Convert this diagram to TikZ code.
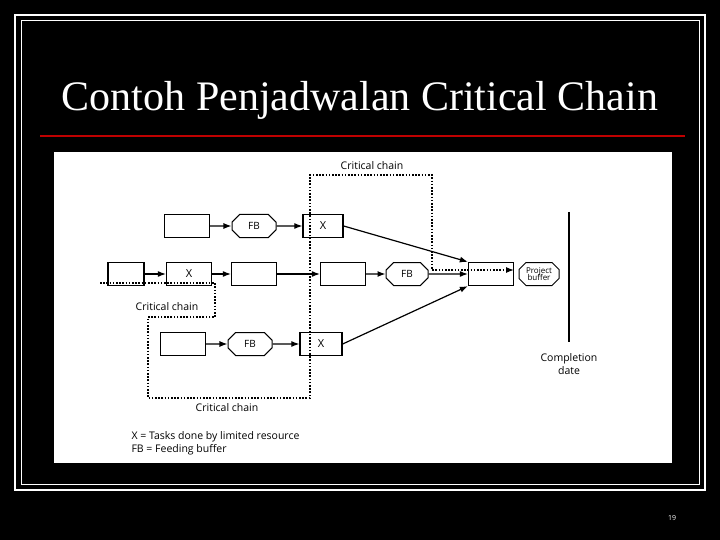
\documentclass[tikz,border=0pt]{standalone}
\usepackage{fontspec}
\setmainfont{Liberation Serif}
\newfontfamily\dsans{Open Sans}
\usetikzlibrary{shapes.misc,arrows.meta,calc}
\begin{document}
\begin{tikzpicture}[x=1pt,y=-1pt,
 task/.style={draw,line width=1.3pt,minimum width=45pt,minimum height=23pt,inner sep=0pt,font=\dsans\fontsize{11}{13}\selectfont},
 fb/.style={draw,line width=1pt,chamfered rectangle,chamfered rectangle xsep=4pt,chamfered rectangle sep=4pt,minimum width=44pt,minimum height=23pt,inner sep=0pt,font=\dsans\fontsize{10}{12}\selectfont},
 arr/.style={-{Latex[length=8pt,width=6pt]},line width=1.2pt},
 cc/.style={dash pattern=on 1.6pt off 1.6pt,line width=1.4pt},
 lbl/.style={font=\dsans\fontsize{10.5}{13}\selectfont}]
\fill[black] (0,0) rectangle (720,540);
\draw[white,line width=2pt] (15,15) rectangle (705,490);
\draw[white,line width=1pt] (21,21) rectangle (699,484);
\node[white,font=\fontsize{42}{46}\selectfont] (title) at (360,100) {Contoh Penjadwalan Critical Chain};
\draw[red!75!black,line width=1.2pt] (40,136) -- (685,136);
\fill[white] (54,152) rectangle (672,463);
\node[white,font=\fontsize{7}{8}\selectfont\dsans] (pg) at (672,518) {19};
% top row
\node[task] (a1) at (187,226) {};
\node[fb] (f1) at (254,226) {FB};
\node[task,minimum width=40pt] (x1) at (323,226) {X};
% middle row
\node[task,minimum width=36pt] (m1) at (126,274) {};
\node[task] (m2) at (189,274) {X};
\node[task] (m3) at (254,274) {};
\node[task] (m4) at (343,274) {};
\node[fb,minimum width=42pt] (f2) at (407,274) {FB};
\node[task] (fin) at (491,274) {};
\node[fb,minimum width=40pt,font=\dsans\fontsize{8}{8}\selectfont,align=center,chamfered rectangle xsep=3pt] (pb) at (539,274) {Project\\[-2pt]buffer};
% bottom row
\node[task] (b1) at (183,344) {};
\node[fb] (f3) at (250,344) {FB};
\node[task,minimum width=42pt] (x3) at (321,344) {X};
\draw[arr] (a1) -- (f1); \draw[arr] (f1) -- (x1);
\draw[arr] (m1) -- (m2); \draw[arr] (m2) -- (m3); \draw[arr] (m3) -- (m4); \draw[arr] (m4) -- (f2);
\draw[arr] (f2) -- (fin);
\draw[arr] (x1.east) -- (fin.north west);
\draw[arr] (x3.east) -- (fin.south west);
\draw[arr] (b1) -- (f3); \draw[arr] (f3) -- (x3);
% completion
\coordinate (c1) at (569,212); \coordinate (c2) at (569,342);
\draw[line width=1.3pt] (c1) -- (c2);
\node[lbl,align=center] (cd) at (569,364) {Completion\\date};
% critical chains
\coordinate (p0) at (100,283); \coordinate (p1) at (215,283); \coordinate (p2) at (215,317);
\coordinate (p3) at (148,317); \coordinate (p4) at (148,398); \coordinate (p5) at (310,398);
\coordinate (p6) at (310,175); \coordinate (p7) at (432,175); \coordinate (p8) at (432,270);
\coordinate (p9) at (508,270);
\draw[cc] (p0) -- (p1) -- (p2) -- (p3) -- (p4) -- (p5) -- (p6) -- (p7) -- (p8) -- (p9);
\draw[arr] ($(p9)+(-1,0)$) -- ($(p9)+(6,0)$);
\node[lbl] (l1) at (372,166) {Critical chain};
\node[lbl] (l2) at (167,307) {Critical chain};
\node[lbl] (l3) at (227,408) {Critical chain};
\node[lbl,anchor=west,align=left] (lg) at (128,443) {X = Tasks done by limited resource\\FB = Feeding buffer};
\end{tikzpicture}
\end{document}
